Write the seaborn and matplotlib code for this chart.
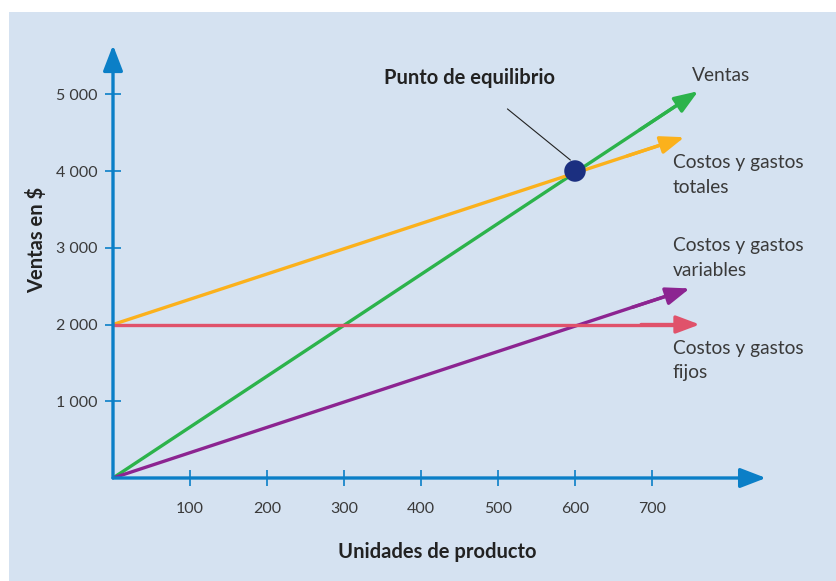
import pandas as pd
import matplotlib.pyplot as plt
import seaborn as sns
from matplotlib.patches import Rectangle

# Data
series_names = ["Ventas", "Costos y gastos totales", "Costos y gastos variables", "Costos y gastos fijos"]
x_start = [0, 0, 0, 0]
y_start = [0, 2000, 0, 2000]
x_end = [760, 742, 749, 762]
y_end = [5040, 4440, 2470, 2000]
colors = ["#2cb34b", "#fbb11c", "#8c2491", "#e0526b"]

equilibrium_x = 600
equilibrium_y = 4000

x_ticks = [100, 200, 300, 400, 500, 600, 700]
y_ticks = [1000, 2000, 3000, 4000, 5000]
y_tick_labels = ["1 000", "2 000", "3 000", "4 000", "5 000"]

rows = []
for name, xs, ys, xe, ye in zip(series_names, x_start, y_start, x_end, y_end):
    rows.append({"serie": name, "unidades": xs, "ventas": ys})
    rows.append({"serie": name, "unidades": xe, "ventas": ye})
df = pd.DataFrame(rows)

sns.set_theme(style="white")
plt.rcParams["font.family"] = ["Lato", "DejaVu Sans"]

axis_blue = "#0b7fc7"
bg = "#d5e2f1"
text_col = "#3a3a3a"

fig = plt.figure(figsize=(8.36, 5.81), dpi=100, facecolor="white")
fig.patches.append(Rectangle((9 / 836, 0), 1, (581 - 12) / 581, transform=fig.transFigure,
                             facecolor=bg, edgecolor="none", zorder=-10))

# axes: origin at pixel (113, 478), 0.77 px per unit in x, 0.07675 px per unit in y
ax_w = 900 * 0.77
ax_h = 5800 * 0.07675
ax = fig.add_axes([113 / 836, 103 / 581, ax_w / 836, ax_h / 581])
ax.set_facecolor("none")
ax.patch.set_alpha(0)

# shorten lines slightly so arrowheads sit on the ends
short = df.copy()
for i, name in enumerate(series_names):
    m = (short["serie"] == name) & (short["unidades"] == x_end[i])
    frac = 0.97
    short.loc[m, "ventas"] = y_start[i] + (y_end[i] - y_start[i]) * frac
    short.loc[m, "unidades"] = x_start[i] + (x_end[i] - x_start[i]) * frac

sns.lineplot(data=short, x="unidades", y="ventas", hue="serie", palette=dict(zip(series_names, colors)),
             linewidth=2.4, legend=False, ax=ax, zorder=3)

for i, name in enumerate(series_names):
    dx = x_end[i] - x_start[i]
    dy = y_end[i] - y_start[i]
    ax.annotate("", xy=(x_end[i], y_end[i]),
                xytext=(x_start[i] + dx * 0.9, y_start[i] + dy * 0.9),
                arrowprops=dict(arrowstyle="-|>,head_length=1.2,head_width=0.45",
                                color=colors[i], lw=2.4, shrinkA=0, shrinkB=0),
                zorder=4)

# axes arrows
ax.annotate("", xy=(848, 0), xytext=(0, 0),
            arrowprops=dict(arrowstyle="-|>,head_length=1.3,head_width=0.5",
                            color=axis_blue, lw=2.4, shrinkA=0, shrinkB=0),
            annotation_clip=False, zorder=5)
ax.annotate("", xy=(0, 5640), xytext=(0, 0),
            arrowprops=dict(arrowstyle="-|>,head_length=1.3,head_width=0.5",
                            color=axis_blue, lw=2.4, shrinkA=0, shrinkB=0),
            annotation_clip=False, zorder=5)

# equilibrium point
sns.scatterplot(x=[equilibrium_x], y=[equilibrium_y], s=240, color="#1b2f80", edgecolor="none",
                ax=ax, zorder=6)
ax.annotate("Punto de equilibrio", xy=(594, 4143), xytext=(463, 5210),
            ha="center", va="center", fontsize=14.5, fontweight="bold", color="#222222",
            arrowprops=dict(arrowstyle="-", color="#222222", lw=0.8, shrinkA=20, shrinkB=0),
            annotation_clip=False)

# series labels
label_kw = dict(ha="left", va="center", fontsize=13.8, color=text_col, linespacing=1.55)
ax.text(752, 5250, "Ventas", **label_kw)
ax.text(727, 3950, "Costos y gastos\ntotales", **label_kw)
ax.text(727, 2870, "Costos y gastos\nvariables", **label_kw)
ax.text(727, 1530, "Costos y gastos\nfijos", **label_kw)

# ticks
for s in ax.spines.values():
    s.set_visible(False)
ax.set_xlim(0, 900)
ax.set_ylim(0, 5800)
ax.set_xticks(x_ticks)
ax.set_xticklabels([str(t) for t in x_ticks])
ax.set_yticks(y_ticks)
ax.set_yticklabels(y_tick_labels)
ax.tick_params(axis="both", direction="inout", length=12, width=1.2, color=axis_blue,
               labelsize=11.5, labelcolor=text_col, bottom=True, left=True)
ax.tick_params(axis="x", pad=11)
ax.tick_params(axis="y", pad=5)

ax.set_xlabel("Unidades de producto", fontsize=14.5, fontweight="bold", color="#222222")
ax.set_ylabel("Ventas en $", fontsize=14.5, fontweight="bold", color="#222222")
ax.xaxis.set_label_coords((437 - 113) / ax_w, -(552 - 478) / ax_h)
ax.yaxis.set_label_coords(-(113 - 37) / ax_w, (478 - 240) / ax_h)
ax.xaxis.label.set_va("center")
ax.yaxis.label.set_va("center")

fig.savefig("out.png", dpi=100, facecolor="white")
